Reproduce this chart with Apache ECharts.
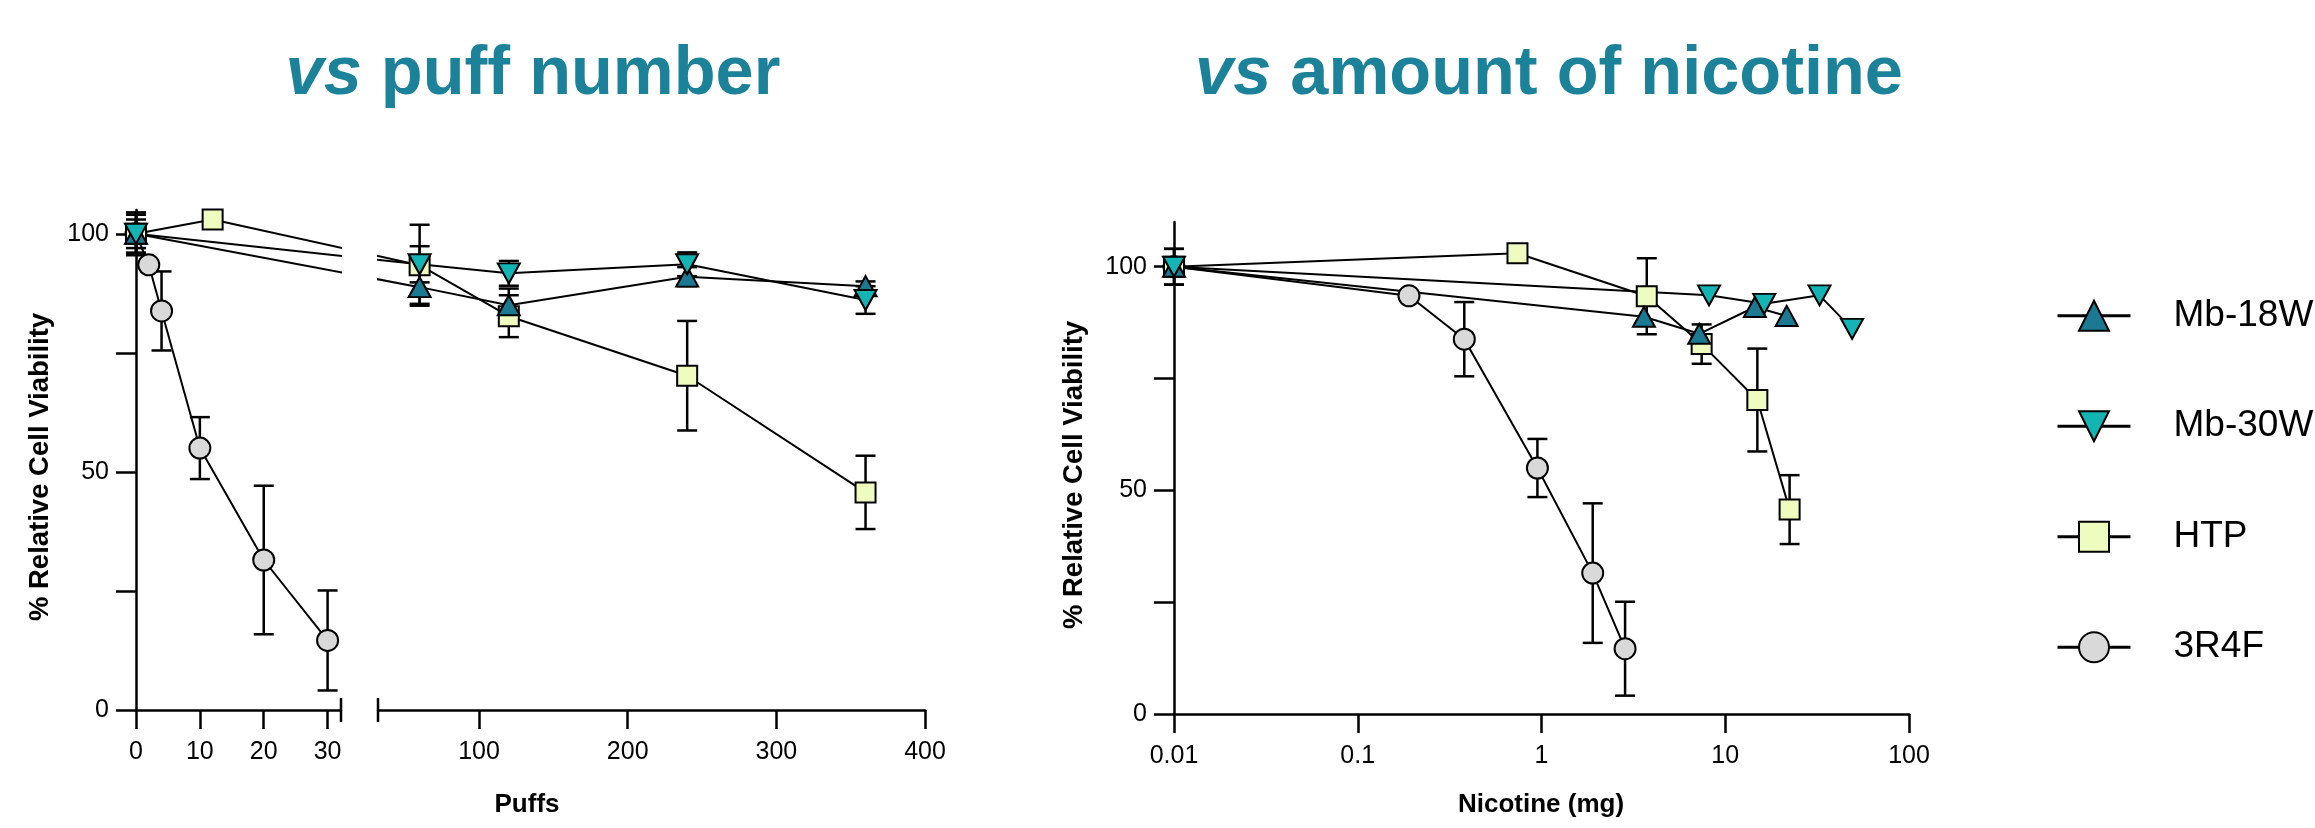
<!DOCTYPE html>
<html>
<head>
<meta charset="utf-8">
<script src="https://cdn.jsdelivr.net/npm/echarts@6/dist/echarts.min.js"></script>
<style>html,body{margin:0;padding:0;background:#fff}#c{width:2315px;height:828px}</style>
</head>
<body>
<div id="c"></div>
<script>
// ---------------- data ----------------
const seriesNames = ['Mb-18W', 'Mb-30W', 'HTP', '3R4F'];

const puffsMb18 = [0, 60, 120, 240, 360];
const viabMb18  = [100, 88.8, 85.0, 91.0, 89.0];
const sdMb18    = [4.5, 3.5, 3.5, 2.0, 1.0];
const nicMb18   = [0.01, 3.61, 7.22, 14.5, 21.6];

const puffsMb30 = [0, 60, 120, 240, 360];
const viabMb30  = [100, 93.6, 91.7, 93.6, 86.1];
const sdMb30    = [3.0, 3.8, 2.6, 2.5, 2.9];
const nicMb30   = [0.01, 8.16, 16.3, 32.6, 49.0];

const puffsHTP = [0, 12, 60, 120, 240, 360];
const viabHTP  = [100, 103, 93.4, 82.7, 70.2, 45.7];
const sdHTP    = [4.0, 0, 8.5, 4.4, 11.5, 7.7];
const nicHTP   = [0.01, 0.74, 3.74, 7.44, 14.95, 22.4];

const puffs3R4F = [0, 2, 4, 10, 20, 30];
const viab3R4F  = [100, 93.5, 83.8, 55.0, 31.5, 14.6];
const sd3R4F    = [4.0, 0, 8.3, 6.5, 15.6, 10.5];
const nic3R4F   = [0.01, 0.19, 0.38, 0.95, 1.9, 2.85];

const puffTicksLeft  = [0, 10, 20, 30];
const puffTicksRight = [100, 200, 300, 400];
const yTicks  = [0, 25, 50, 75, 100];
const yLabels = [0, 50, 100];

// --------------- styling ---------------
const FONT = '"Liberation Sans", Arial, Helvetica, sans-serif';
const TITLE_COLOR = '#1b8299';
const SEG1_MAX = 32.1;
const SEG2_MIN = 32;

const defs = [
  {name: '3R4F',   x: puffs3R4F, y: viab3R4F, sd: sd3R4F, nic: nic3R4F, errRight: true,  symbol: 'circle',   size: 21,       rot: 0,   color: '#d9d9d9'},
  {name: 'HTP',    x: puffsHTP,  y: viabHTP,  sd: sdHTP,  nic: nicHTP,  errRight: true,  symbol: 'rect',     size: 20,       rot: 0,   color: '#eefcc0'},
  {name: 'Mb-18W', x: puffsMb18, y: viabMb18, sd: sdMb18, nic: nicMb18, errRight: false, symbol: 'triangle', size: [22, 20], rot: 0,   color: '#1b7a92'},
  {name: 'Mb-30W', x: puffsMb30, y: viabMb30, sd: sdMb30, nic: nicMb30, errRight: false, symbol: 'triangle', size: [22, 20], rot: 180, color: '#14b4b4'}
];

const axLine = {show: true, lineStyle: {color: '#000', width: 2.5}};
const xTick = {show: true, length: 19, lineStyle: {color: '#000', width: 2.5}};
const yTick = {show: true, length: 20, lineStyle: {color: '#000', width: 2.5}};
const xLab = {color: '#000', fontSize: 25, fontFamily: FONT, margin: 30};
const yLab = {color: '#000', fontSize: 25, fontFamily: FONT, margin: 27, customValues: yLabels};
const yName = {color: '#000', fontSize: 27.5, fontWeight: 'bold', fontFamily: FONT, padding: [0, 14, 0, 0]};

function errSeries(xAxisIndex, yAxisIndex, xs, ys, sds, keep) {
  const data = [];
  xs.forEach((x, i) => {
    if (sds[i] > 0 && keep(x)) data.push([x, ys[i] - sds[i], ys[i] + sds[i]]);
  });
  return {
    type: 'custom', xAxisIndex, yAxisIndex, z: 2, silent: true,
    encode: {x: 0, y: [1, 2]},
    data,
    renderItem(params, api) {
      const x = api.value(0);
      const lo = api.coord([x, api.value(1)]);
      const hi = api.coord([x, api.value(2)]);
      const w = 10;
      const st = {stroke: '#000', lineWidth: 2.5};
      return {type: 'group', children: [
        {type: 'line', shape: {x1: lo[0], y1: lo[1], x2: hi[0], y2: hi[1]}, style: st},
        {type: 'line', shape: {x1: lo[0] - w, y1: lo[1], x2: lo[0] + w, y2: lo[1]}, style: st},
        {type: 'line', shape: {x1: hi[0] - w, y1: hi[1], x2: hi[0] + w, y2: hi[1]}, style: st}
      ]};
    }
  };
}

function lineSeries(id, d, xAxisIndex, yAxisIndex, data) {
  return {
    id, name: d.name, type: 'line', xAxisIndex, yAxisIndex, z: 3,
    data, clip: true, animation: false,
    symbol: d.symbol, symbolSize: d.size, symbolRotate: d.rot,
    showAllSymbol: true,
    lineStyle: {color: '#000', width: 2},
    itemStyle: {color: d.color, borderColor: '#000', borderWidth: 2, opacity: 1}
  };
}

const chart = echarts.init(document.getElementById('c'), null, {renderer: 'canvas'});

const series = [];
defs.forEach(d => {
  series.push(errSeries(0, 0, d.x, d.y, d.sd, x => x <= SEG1_MAX));
  series.push(errSeries(1, 1, d.x, d.y, d.sd, x => x >= SEG2_MIN));
  if (d.errRight) series.push(errSeries(2, 2, d.nic, d.y, d.sd, () => true));
});
defs.forEach(d => {
  series.push(lineSeries('L0-' + d.name, d, 0, 0, d.x.map((x, i) => [x, d.y[i]]).filter(p => p[0] <= SEG1_MAX)));
  series.push(lineSeries('L1-' + d.name, d, 1, 1, d.x.map((x, i) => [x, d.y[i]]).filter(p => p[0] >= SEG2_MIN)));
  series.push(lineSeries('R-' + d.name, d, 2, 2, d.nic.map((x, i) => [x, d.y[i]])));
});

function titleText(x, rest) {
  return {type: 'text', x, y: 75, silent: true, style: {
    text: '{i|vs}{n| ' + rest + '}', align: 'center', verticalAlign: 'middle',
    rich: {
      i: {fontStyle: 'italic', fontWeight: 'bold', fontSize: 68.5, fontFamily: FONT, fill: TITLE_COLOR},
      n: {fontWeight: 'bold', fontSize: 68.5, fontFamily: FONT, fill: TITLE_COLOR}
    }}};
}

const option = {
  backgroundColor: '#fff',
  animation: false,
  textStyle: {fontFamily: FONT},
  grid: [
    {left: 136, top: 210, width: 205, height: 500},
    {left: 378, top: 210, width: 547, height: 500},
    {left: 1174, top: 222, width: 735, height: 492}
  ],
  xAxis: [
    {gridIndex: 0, type: 'value', min: 0, max: SEG1_MAX,
     axisLine: Object.assign({}, axLine, {symbol: ['none', 'rect'], symbolSize: [24, 2.5]}),
     axisTick: Object.assign({}, xTick, {customValues: puffTicksLeft}),
     axisLabel: Object.assign({}, xLab, {customValues: puffTicksLeft}),
     splitLine: {show: false}},
    {gridIndex: 1, type: 'value', min: SEG2_MIN, max: 400,
     axisLine: Object.assign({}, axLine, {symbol: ['rect', 'none'], symbolSize: [24, 2.5]}),
     axisTick: Object.assign({}, xTick, {customValues: puffTicksRight}),
     axisLabel: Object.assign({}, xLab, {customValues: puffTicksRight}),
     splitLine: {show: false}},
    {gridIndex: 2, type: 'log', logBase: 10, min: 0.01, max: 100,
     axisLine: axLine, axisTick: xTick, axisLabel: xLab,
     minorTick: {show: false}, splitLine: {show: false}}
  ],
  yAxis: [
    {gridIndex: 0, type: 'value', min: 0, max: 105,
     axisLine: axLine, axisTick: Object.assign({}, yTick, {customValues: yTicks}),
     axisLabel: yLab, splitLine: {show: false},
     name: '% Relative Cell Viability', nameLocation: 'middle', nameGap: 82, nameTextStyle: yName},
    {gridIndex: 1, type: 'value', min: 0, max: 105, show: false, splitLine: {show: false}},
    {gridIndex: 2, type: 'value', min: 0, max: 110,
     axisLine: axLine, axisTick: Object.assign({}, yTick, {customValues: yTicks}),
     axisLabel: yLab, splitLine: {show: false},
     name: '% Relative Cell Viability', nameLocation: 'middle', nameGap: 86, nameTextStyle: yName}
  ],
  legend: {
    data: seriesNames, orient: 'vertical', left: 2056, top: 297, padding: 0,
    itemWidth: 73, itemHeight: 37.5, itemGap: 73, selectedMode: false,
    lineStyle: {width: 3},
    textStyle: {fontSize: 37, color: '#000', fontFamily: FONT, lineHeight: 37.5, padding: [0, 0, 0, 38]}
  },
  graphic: [
    titleText(533, 'puff number'),
    titleText(1549, 'amount of nicotine'),
    {type: 'text', x: 527, y: 805, silent: true, style: {
      text: 'Puffs', align: 'center', verticalAlign: 'middle',
      font: 'bold 26px ' + FONT, fill: '#000'}},
    {type: 'text', x: 1541, y: 805, silent: true, style: {
      text: 'Nicotine (mg)', align: 'center', verticalAlign: 'middle',
      font: 'bold 26px ' + FONT, fill: '#000'}}
  ],
  series
};

chart.setOption(option);

// Bridge lines across the broken puff axis: the neighbour point on the other
// segment is mapped through the axes (pixel space) into this segment's coordinates.
function mapAcross(fromIdx, toIdx, pt) {
  const px = chart.convertToPixel({xAxisIndex: fromIdx, yAxisIndex: fromIdx}, pt);
  return chart.convertFromPixel({xAxisIndex: toIdx, yAxisIndex: toIdx}, px);
}
const updates = [];
defs.forEach(d => {
  const pts = d.x.map((x, i) => [x, d.y[i]]);
  const left = pts.filter(p => p[0] <= SEG1_MAX).map(p => ({value: p}));
  const firstRight = pts.find(p => p[0] > SEG1_MAX);
  if (firstRight) left.push({value: mapAcross(1, 0, firstRight), symbol: 'none'});
  const right = pts.filter(p => p[0] >= SEG2_MIN).map(p => ({value: p}));
  const lefts = pts.filter(p => p[0] < SEG2_MIN);
  if (right.length && lefts.length) right.unshift({value: mapAcross(0, 1, lefts[lefts.length - 1]), symbol: 'none'});
  updates.push({id: 'L0-' + d.name, data: left});
  updates.push({id: 'L1-' + d.name, data: right});
});
chart.setOption({series: updates});
</script>
</body>
</html>
